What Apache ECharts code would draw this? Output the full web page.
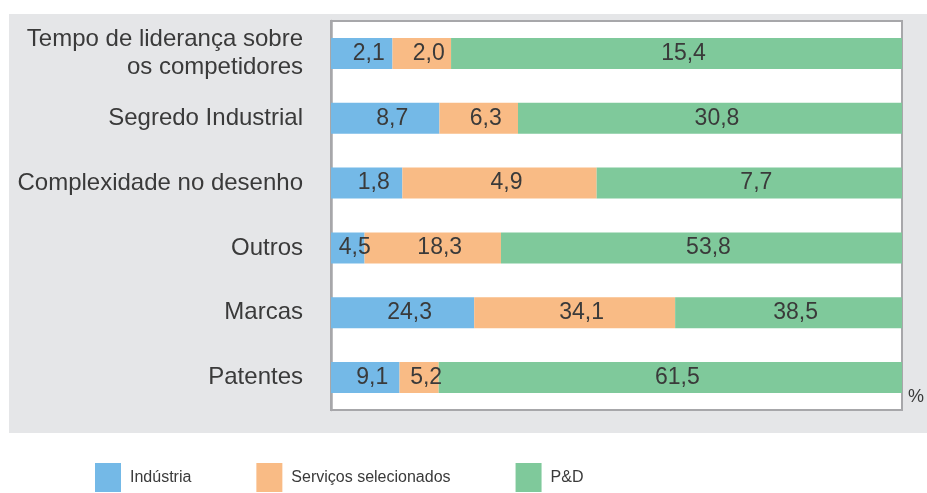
<!DOCTYPE html>
<html>
<head>
<meta charset="utf-8">
<script src="https://cdn.jsdelivr.net/npm/echarts@6/dist/echarts.min.js"></script>
<style>
  html, body { margin: 0; padding: 0; background: #fff; }
  #chart { width: 927px; height: 493px; }
</style>
</head>
<body>
<div id="chart"></div>
<script>
// valores (%)
const categories = [
  'Tempo de liderança sobre\nos competidores',
  'Segredo Industrial',
  'Complexidade no desenho',
  'Outros',
  'Marcas',
  'Patentes'
];
const industria = [2.1, 8.7, 1.8, 4.5, 24.3, 9.1];
const servicos = [2.0, 6.3, 4.9, 18.3, 34.1, 5.2];
const ped = [15.4, 30.8, 7.7, 53.8, 38.5, 61.5];
const seriesNames = ['Indústria', 'Serviços selecionados', 'P&D'];
const colors = ['#74b9e7', '#f9bb85', '#7fc99b'];

const rows = [industria, servicos, ped];
const totals = categories.map((_, i) => industria[i] + servicos[i] + ped[i]);

const chart = echarts.init(document.getElementById('chart'));

const fmt = (v) => v.toFixed(1).replace('.', ',');

const option = {
  animation: false,
  textStyle: { fontFamily: 'Liberation Sans, Arial, sans-serif' },
  graphic: [
    {
      type: 'rect',
      z: -10,
      shape: { x: 9, y: 14, width: 918, height: 419 },
      style: { fill: '#e5e6e8' }
    }
  ],
  legend: {
    left: 90,
    top: 458,
    itemWidth: 26,
    itemHeight: 29,
    itemGap: 65,
    icon: 'rect',
    textStyle: {
      fontSize: 16,
      color: '#3a3a3a',
      padding: [0, 0, 0, 4]
    },
    data: seriesNames
  },
  grid: {
    left: 331,
    right: 23,
    top: 21,
    bottom: 83,
    show: true,
    backgroundColor: '#fff',
    borderColor: '#a7a7aa',
    borderWidth: 2
  },
  xAxis: {
    type: 'value',
    min: 0,
    max: 100,
    axisLabel: { show: false },
    axisLine: { show: false },
    axisTick: { show: false },
    splitLine: { show: false },
    name: '%',
    nameLocation: 'end',
    nameGap: 6,
    nameTextStyle: {
      fontSize: 18,
      color: '#3a3a3a',
      verticalAlign: 'bottom',
      padding: [0, 0, 4, 0]
    }
  },
  yAxis: {
    type: 'category',
    inverse: true,
    data: categories,
    axisLine: { lineStyle: { color: '#a7a7aa', width: 2.5 } },
    axisTick: { length: 4, lineStyle: { color: '#a7a7aa', width: 2 } },
    axisLabel: {
      fontSize: 24,
      lineHeight: 28,
      color: '#3a3a3a',
      margin: 28
    }
  },
  series: rows.map((vals, s) => ({
    name: seriesNames[s],
    type: 'bar',
    stack: 'total',
    barWidth: 31,
    itemStyle: { color: colors[s] },
    label: {
      show: true,
      position: 'inside',
      offset: [7, 0],
      fontSize: 23,
      color: '#3a3a3a',
      formatter: (p) => fmt(vals[p.dataIndex])
    },
    data: vals.map((v, i) => v / totals[i] * 100)
  }))
};

chart.setOption(option);
</script>
</body>
</html>
